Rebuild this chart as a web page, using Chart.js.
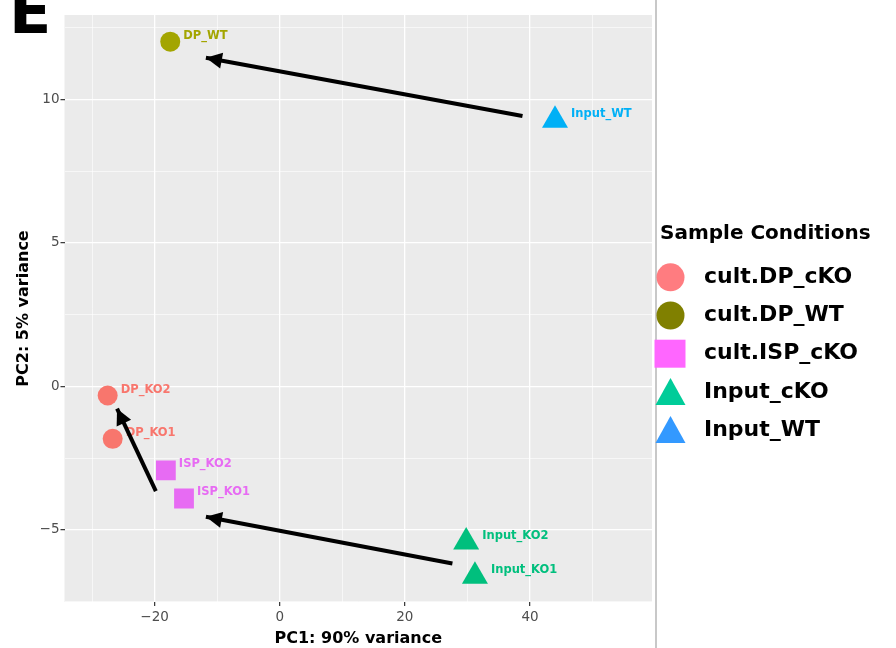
<!DOCTYPE html>
<html>
<head>
<meta charset="utf-8">
<title>PCA - Sample Conditions</title>
<script src="https://cdn.jsdelivr.net/npm/chart.js@4.4.1/dist/chart.umd.min.js"></script>
<style>
  html, body { margin: 0; padding: 0; background: #fff; }
  #pca { display: block; }
</style>
</head>
<body>
<canvas id="pca" width="896" height="648"></canvas>
<script>
// samples
const sampleNames = ["DP_KO2", "DP_KO1", "DP_WT", "ISP_KO2", "ISP_KO1", "Input_KO2", "Input_KO1", "Input_WT"];
const sampleCondition = [0, 0, 1, 2, 2, 3, 3, 4];
const pc1 = [-27.5, -26.7, -17.5, -18.2, -15.3, 29.8, 31.2, 44.0];
const pc2 = [-0.32, -1.83, 12.02, -2.93, -3.91, -5.43, -6.62, 9.28];

// conditions / legend
const conditions = ["cult.DP_cKO", "cult.DP_WT", "cult.ISP_cKO", "Input_cKO", "Input_WT"];
const pointColors = ["#F8766D", "#A3A500", "#E76BF3", "#00BF7D", "#00B0F6"];
const legendColors = ["#FF7C80", "#808000", "#FF66FF", "#00CC99", "#3399FF"];
const pointShapes = ["circle", "circle", "rect", "triangle", "triangle"];

// arrows: tail -> head
const arrowFromPC1 = [38.8, -19.8, 27.6];
const arrowFromPC2 = [9.43, -3.65, -6.18];
const arrowToPC1 = [-11.8, -26.0, -11.8];
const arrowToPC2 = [11.46, -0.78, -4.55];

// tick labels
const xTickLabels = [-20, 0, 20, 40];
const yTickLabels = [-5, 0, 5, 10];

const fmt = v => v < 0 ? "\u2212" + Math.abs(v) : String(v);
const isMajor = (list, v) => list.some(t => Math.abs(t - v) < 1e-6);

const radiusFor = { circle: 10, rect: 14, triangle: 15 };
const halfWidthFor = { circle: 10, rect: 10, triangle: 13 };

const pointSets = conditions.map((name, c) => {
  const data = [];
  sampleNames.forEach((s, i) => {
    if (sampleCondition[i] === c) data.push({ x: pc1[i], y: pc2[i], label: s });
  });
  const shape = pointShapes[c];
  return {
    label: name,
    data: data,
    pointStyle: shape,
    pointRadius: radiusFor[shape],
    pointBackgroundColor: pointColors[c],
    pointBorderWidth: 0,
    showLine: false,
    order: 2,
    labelColor: pointColors[c],
    labelDx: halfWidthFor[shape] + 3
  };
});

const arrowSets = arrowFromPC1.map((x0, k) => ({
  label: "arrow" + k,
  data: [{ x: x0, y: arrowFromPC2[k] }, { x: arrowToPC1[k], y: arrowToPC2[k] }],
  showLine: true,
  borderColor: "#000",
  borderWidth: 4,
  borderCapStyle: "butt",
  pointRadius: 0,
  order: 1,
  isArrow: true
}));

// panel background, point labels, arrow heads, figure letter, legend
const decor = {
  id: "decor",
  beforeDraw(chart) {
    const { ctx, chartArea: a } = chart;
    ctx.save();
    ctx.fillStyle = "#fff";
    ctx.fillRect(0, 0, chart.width, chart.height);
    ctx.fillStyle = "#EBEBEB";
    ctx.fillRect(a.left, a.top, a.right - a.left, a.bottom - a.top);
    ctx.restore();
  },
  afterDatasetDraw(chart, args) {
    const ds = chart.data.datasets[args.index];
    const ctx = chart.ctx;
    const pts = args.meta.data;
    ctx.save();
    if (ds.isArrow) {
      const p0 = pts[0].getProps(["x", "y"]);
      const p1 = pts[1].getProps(["x", "y"]);
      const ang = Math.atan2(p1.y - p0.y, p1.x - p0.x);
      const len = 16, half = 8;
      ctx.fillStyle = "#000";
      ctx.translate(p1.x, p1.y);
      ctx.rotate(ang);
      ctx.beginPath();
      ctx.moveTo(0, 0);
      ctx.lineTo(-len, -half);
      ctx.lineTo(-len, half);
      ctx.closePath();
      ctx.fill();
    } else {
      ctx.font = 'bold 11.5px "DejaVu Sans"';
      ctx.fillStyle = ds.labelColor;
      ctx.textAlign = "left";
      ctx.textBaseline = "middle";
      pts.forEach((pt, j) => {
        const p = pt.getProps(["x", "y"]);
        ctx.fillText(ds.data[j].label, p.x + ds.labelDx, p.y - 6);
      });
    }
    ctx.restore();
  },
  afterDraw(chart) {
    const ctx = chart.ctx;
    ctx.save();
    // separator
    ctx.strokeStyle = "#C8C8C8";
    ctx.lineWidth = 2;
    ctx.beginPath();
    ctx.moveTo(656, 0);
    ctx.lineTo(656, chart.height);
    ctx.stroke();
    // panel letter
    ctx.fillStyle = "#000";
    ctx.font = 'bold 62px "DejaVu Sans"';
    ctx.textAlign = "left";
    ctx.textBaseline = "alphabetic";
    ctx.fillText("E", 9, 33);
    // legend
    ctx.font = 'bold 20px "DejaVu Sans"';
    ctx.textBaseline = "middle";
    ctx.fillText("Sample Conditions", 660, 234);
    const cx = 670.5, y0 = 277.3, step = 38.2;
    conditions.forEach((name, c) => {
      const cy = y0 + c * step;
      ctx.fillStyle = legendColors[c];
      ctx.beginPath();
      if (pointShapes[c] === "circle") {
        ctx.arc(cx, cy, 14, 0, Math.PI * 2);
      } else if (pointShapes[c] === "rect") {
        ctx.rect(cx - 16, cy - 14, 31, 28);
      } else {
        ctx.moveTo(cx, cy - 14);
        ctx.lineTo(cx + 15, cy + 13);
        ctx.lineTo(cx - 15, cy + 13);
        ctx.closePath();
      }
      ctx.fill();
      ctx.fillStyle = "#000";
      ctx.font = 'bold 22px "DejaVu Sans"';
      ctx.fillText(name, 704, cy);
    });
    ctx.restore();
  }
};

const tickFont = { family: "DejaVu Sans", size: 13.5 };
const titleFont = { family: "DejaVu Sans", size: 16, weight: "bold" };

new Chart(document.getElementById("pca"), {
  type: "scatter",
  data: { datasets: pointSets.concat(arrowSets) },
  options: {
    responsive: false,
    animation: false,
    events: [],
    layout: { padding: { top: 14, right: 244, bottom: 0, left: 0 } },
    plugins: {
      legend: { display: false },
      tooltip: { enabled: false }
    },
    scales: {
      x: {
        type: "linear",
        min: -34.4,
        max: 59.5,
        border: { display: false },
        afterFit: s => { s.height = 46; },
        grid: {
          color: "#fff",
          lineWidth: c => isMajor(xTickLabels, c.tick.value) ? 1.3 : 0.6,
          tickColor: c => isMajor(xTickLabels, c.tick.value) ? "#333" : "rgba(0,0,0,0)",
          tickWidth: 1.2,
          tickLength: 4
        },
        ticks: {
          stepSize: 10,
          includeBounds: false,
          autoSkip: false,
          maxRotation: 0,
          padding: 3,
          color: "#4D4D4D",
          font: tickFont,
          callback: v => isMajor(xTickLabels, v) ? fmt(v) : ""
        },
        title: {
          display: true,
          text: "PC1: 90% variance",
          color: "#000",
          font: titleFont,
          padding: { top: 0, bottom: 0 }
        }
      },
      y: {
        type: "linear",
        min: -7.52,
        max: 12.95,
        border: { display: false },
        afterFit: s => { s.width = 64.5; },
        grid: {
          color: "#fff",
          lineWidth: c => isMajor(yTickLabels, c.tick.value) ? 1.3 : 0.6,
          tickColor: c => isMajor(yTickLabels, c.tick.value) ? "#333" : "rgba(0,0,0,0)",
          tickWidth: 1.2,
          tickLength: 4
        },
        ticks: {
          stepSize: 2.5,
          includeBounds: false,
          autoSkip: false,
          padding: 1,
          color: "#4D4D4D",
          font: tickFont,
          callback: v => isMajor(yTickLabels, v) ? fmt(v) : ""
        },
        title: {
          display: true,
          text: "PC2: 5% variance",
          color: "#000",
          font: titleFont,
          padding: { top: 14, bottom: 0 }
        }
      }
    }
  },
  plugins: [decor]
});
</script>
</body>
</html>
